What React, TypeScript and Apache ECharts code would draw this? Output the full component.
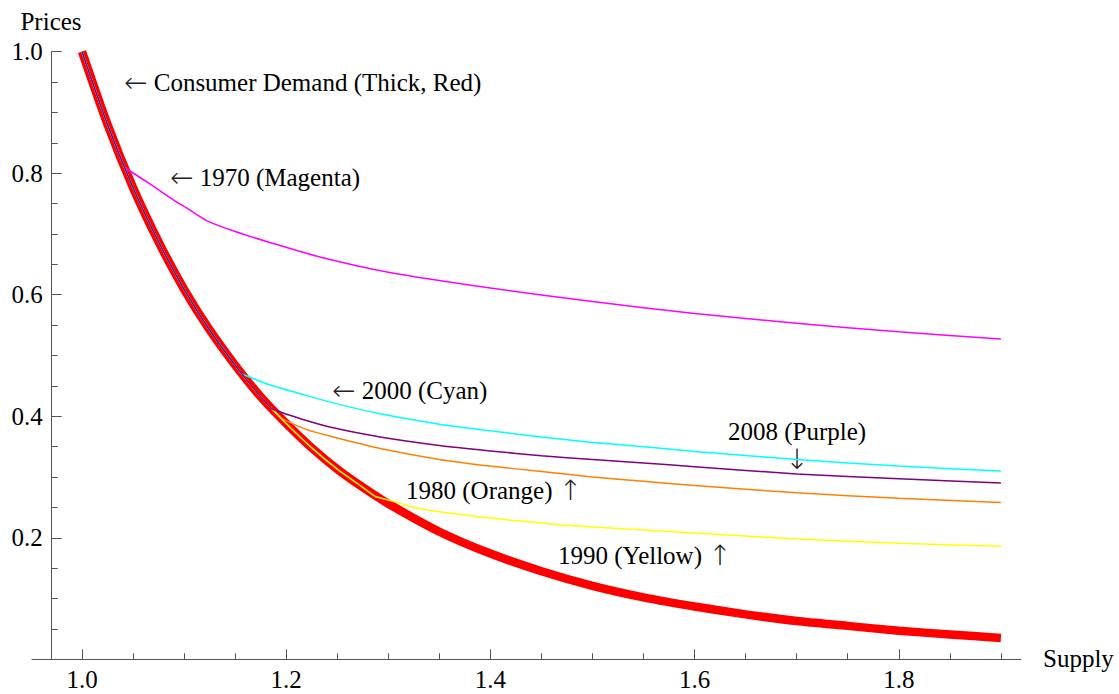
import React, { useEffect, useRef } from "react";
import * as echarts from "echarts";

// Consumer demand curve (supply, price)
const DEMAND: [number, number][] = [
  [1.0, 1.0], [1.025, 0.88], [1.05, 0.776], [1.075, 0.687], [1.1, 0.609],
  [1.125, 0.542], [1.15, 0.484], [1.175, 0.432], [1.2, 0.388], [1.225, 0.348],
  [1.25, 0.313], [1.275, 0.283], [1.3, 0.256], [1.35, 0.21], [1.4, 0.174],
  [1.45, 0.145], [1.5, 0.121], [1.55, 0.102], [1.6, 0.087], [1.65, 0.074],
  [1.7, 0.063], [1.75, 0.055], [1.8, 0.047], [1.85, 0.041], [1.9, 0.035],
];

// Branches leaving the demand curve
const BRANCH_1970: [number, number][] = [
  [1.042, 0.809], [1.065, 0.784], [1.086, 0.760], [1.105, 0.740], [1.122, 0.722],
  [1.15, 0.704], [1.184, 0.686], [1.233, 0.662], [1.3, 0.637], [1.4, 0.611],
  [1.5, 0.589], [1.6, 0.569], [1.7, 0.553], [1.8, 0.539], [1.9, 0.527],
];
const BRANCH_1980: [number, number][] = [
  [1.195, 0.397], [1.22, 0.378], [1.246, 0.366], [1.292, 0.347], [1.35, 0.329],
  [1.4, 0.318], [1.45, 0.309], [1.5, 0.3], [1.55, 0.293], [1.6, 0.286],
  [1.7, 0.274], [1.8, 0.265], [1.9, 0.258],
];
const BRANCH_1990: [number, number][] = [
  [1.287, 0.268], [1.311, 0.257], [1.325, 0.25], [1.357, 0.241], [1.42, 0.229],
  [1.49, 0.219], [1.55, 0.213], [1.6, 0.208], [1.7, 0.198], [1.8, 0.191], [1.9, 0.186],
];
const BRANCH_2000: [number, number][] = [
  [1.156, 0.47], [1.185, 0.451], [1.214, 0.437], [1.246, 0.422], [1.292, 0.404],
  [1.35, 0.387], [1.4, 0.376], [1.45, 0.366], [1.5, 0.357], [1.55, 0.35],
  [1.6, 0.342], [1.7, 0.329], [1.8, 0.318], [1.9, 0.31],
];
const BRANCH_2008: [number, number][] = [
  [1.186, 0.412], [1.214, 0.396], [1.246, 0.381], [1.292, 0.366], [1.35, 0.352],
  [1.4, 0.343], [1.45, 0.335], [1.5, 0.329], [1.55, 0.323], [1.6, 0.317],
  [1.7, 0.305], [1.8, 0.297], [1.9, 0.29],
];

const X_MAJOR = [1.0, 1.2, 1.4, 1.6, 1.8];
const X_MINOR = [1.05, 1.1, 1.15, 1.25, 1.3, 1.35, 1.45, 1.5, 1.55, 1.65, 1.7, 1.75, 1.85, 1.9];

const X_MIN = 0.951;
const X_MAX = 1.9194;

const FONT = "'Liberation Serif', 'Times New Roman', serif";
const ARROW_FONT = "'DejaVu Sans', sans-serif";
const AXIS_COLOR = "#555";

// part of a supply curve that runs along the demand curve, up to its branch point
function along(branch: [number, number][]): [number, number][] {
  return DEMAND.filter(([x]) => x < branch[0][0]).concat([branch[0]]);
}

function text(x: number, y: number, t: string, align = "left") {
  return {
    type: "text",
    x,
    y,
    silent: true,
    style: {
      text: t,
      fill: "#000",
      fontSize: 25,
      fontFamily: FONT,
      lineHeight: 24,
      align,
      textAlign: align,
      verticalAlign: "middle",
      textVerticalAlign: "middle",
      rich: {
        a: { fontFamily: ARROW_FONT, fontSize: 28, fill: "#222", fontWeight: 200, lineHeight: 22 },
        t: { fontFamily: FONT, fontSize: 25, fill: "#000", lineHeight: 24 },
      },
    },
  };
}

export default function App() {
  const ref = useRef<HTMLDivElement>(null);
  useEffect(() => {
    if (!ref.current) return;
    const chart = echarts.init(ref.current, undefined, { renderer: "svg" });
    const thin = (name: string, color: string, data: [number, number][]) => ({
      name,
      type: "line",
      xAxisIndex: 0,
      data,
      smooth: 0.25,
      showSymbol: false,
      symbol: "none",
      lineStyle: { color, width: 1.5 },
    });
    const supply = (name: string, color: string, branch: [number, number][]) => [
      thin(name, color, along(branch)),
      thin(name, color, branch),
    ];
    chart.setOption({
      animation: false,
      backgroundColor: "#fff",
      grid: { left: 32, right: 98.3, top: 51.7, bottom: 34.7 },
      xAxis: [
        {
          type: "value",
          min: X_MIN,
          max: X_MAX,
          axisLine: { show: true, onZero: false, lineStyle: { color: AXIS_COLOR, width: 1 } },
          splitLine: { show: false },
          axisTick: {
            show: true,
            inside: true,
            length: 10,
            customValues: X_MAJOR,
            lineStyle: { color: AXIS_COLOR },
          },
          axisLabel: {
            customValues: X_MAJOR,
            formatter: (v: number) => v.toFixed(1),
            margin: 8,
            fontFamily: FONT,
            fontSize: 25,
            color: "#000",
          },
        },
        {
          type: "value",
          min: X_MIN,
          max: X_MAX,
          position: "bottom",
          offset: 0,
          axisLine: { show: false, onZero: false },
          splitLine: { show: false },
          axisTick: {
            show: true,
            inside: true,
            length: 6,
            customValues: X_MINOR,
            lineStyle: { color: AXIS_COLOR },
          },
          axisLabel: { show: false },
        },
      ],
      yAxis: {
        type: "value",
        min: 0,
        max: 1,
        interval: 0.2,
        offset: -19.7,
        axisLine: { show: true, onZero: false, lineStyle: { color: AXIS_COLOR, width: 1 } },
        axisTick: { show: true, inside: true, length: 10, lineStyle: { color: AXIS_COLOR } },
        minorTick: { show: true, splitNumber: 4, length: 6, lineStyle: { color: AXIS_COLOR } },
        splitLine: { show: false },
        minorSplitLine: { show: false },
        axisLabel: {
          formatter: (v: number) => (v === 0 ? "" : v.toFixed(1)),
          margin: 9,
          fontFamily: FONT,
          fontSize: 25,
          color: "#000",
        },
      },
      series: [
        {
          name: "Consumer Demand",
          type: "line",
          xAxisIndex: 0,
          data: DEMAND,
          smooth: 0.25,
          showSymbol: false,
          symbol: "none",
          lineStyle: { color: "#ff0000", width: 8.5, cap: "butt" },
        },
        ...supply("1970", "#ff00ff", BRANCH_1970),
        ...supply("1980", "#ff8000", BRANCH_1980),
        ...supply("1990", "#ffff00", BRANCH_1990),
        ...supply("2000", "#00ffff", BRANCH_2000),
        ...supply("2008", "#800080", BRANCH_2008),
      ],
      graphic: [
        text(51, 21, "Prices", "center"),
        text(1043, 658, "Supply"),
        text(124, 82, "{a|←} {t|Consumer Demand (Thick, Red)}"),
        text(170, 177, "{a|←} {t|1970 (Magenta)}"),
        text(332, 390, "{a|←} {t|2000 (Cyan)}"),
        text(797, 431, "2008 (Purple)", "center"),
        text(797, 459, "{a|↓}", "center"),
        text(406, 490, "{t|1980 (Orange)} {a|↑}"),
        text(558, 555, "{t|1990 (Yellow)} {a|↑}"),
      ],
    });
    return () => chart.dispose();
  }, []);
  return (
    <div
      ref={ref}
      style={{ position: "fixed", left: 0, top: 0, width: 1119, height: 694, background: "#fff" }}
    />
  );
}
